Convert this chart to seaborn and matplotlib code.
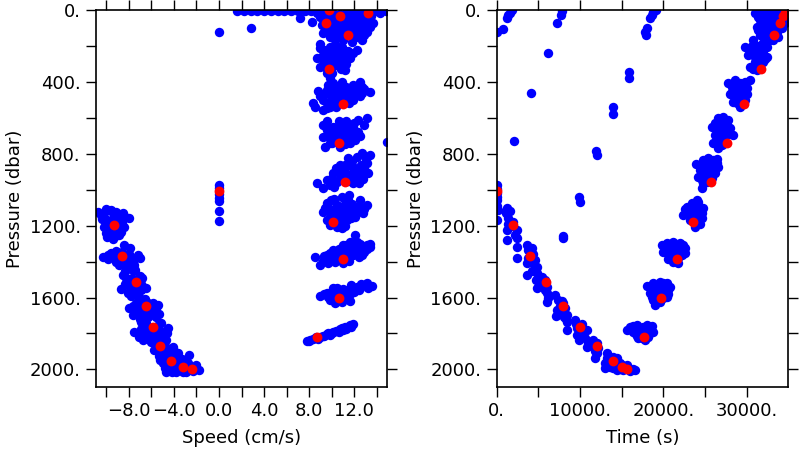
import matplotlib
matplotlib.use("Agg")
import matplotlib.pyplot as plt
import seaborn as sns
import pandas as pd

# red markers: shared pressure with speed and time
red_pres = [0, 15, 33, 74, 139, 328, 523, 742, 955, 1180, 1384, 1605, 1822,
            1010, 1195, 1367, 1515, 1645, 1762, 1868, 1952, 1988, 2000]
red_speed = [9.78, 13.18, 10.72, 9.45, 11.46, 9.75, 11.02, 10.66, 11.17, 10.07, 11.02, 10.66, 8.71,
             0.0, -9.28, -8.63, -7.36, -6.47, -5.88, -5.23, -4.26, -3.22, -2.39]
red_time = [34750, 34600, 34320, 34000, 33320, 31680, 29680, 27680, 25680, 23600, 21680, 19680, 17720,
            80, 2000, 4000, 5920, 7920, 10000, 12000, 14000, 15000, 15600]

# left panel, blue (speed cm/s, pressure dbar)
down_a = [(-10.7, 1125), (-10.0, 1105), (-9.6, 1115), (-9.1, 1125), (-8.5, 1130), (-8.0, 1160),
          (-10.4, 1165), (-9.9, 1170), (-9.5, 1185), (-9.0, 1180), (-8.4, 1205), (-10.2, 1210),
          (-9.7, 1220), (-9.0, 1215), (-8.7, 1235), (-9.9, 1265), (-9.4, 1275), (-8.9, 1250), (-9.6, 1240),
          (-10.5, 1140), (-9.3, 1150), (-8.8, 1155), (-9.3, 1200), (-10.0, 1190), (-9.2, 1260),
          (-10.2, 1130), (-9.4, 1130), (-8.6, 1180), (-9.8, 1195), (-9.2, 1240), (-10.0, 1240), (-8.3, 1150)]
down_b = [(-10.3, 1373), (-9.6, 1354), (-9.1, 1340), (-8.4, 1308), (-7.9, 1326), (-7.2, 1363),
          (-9.1, 1400), (-8.2, 1428), (-7.6, 1400), (-7.4, 1447), (-8.8, 1380), (-8.0, 1360), (-9.8, 1365),
          (-9.4, 1370), (-8.6, 1345), (-7.7, 1380), (-8.6, 1410), (-7.8, 1440),
          (-9.8, 1385), (-9.0, 1360), (-8.3, 1380), (-8.0, 1400), (-8.9, 1420), (-7.5, 1420),
          (-8.3, 1450), (-7.0, 1380)]
down_c = [(-8.5, 1475), (-7.9, 1503), (-6.8, 1493), (-6.5, 1549), (-8.7, 1554), (-8.1, 1577),
          (-7.1, 1558), (-7.6, 1530), (-7.0, 1480), (-6.9, 1525), (-8.3, 1525), (-7.3, 1515),
          (-7.6, 1570), (-6.7, 1540), (-8.2, 1490), (-7.7, 1490), (-7.0, 1500), (-8.0, 1535),
          (-7.3, 1545), (-6.9, 1560), (-7.8, 1590)]
down_d = [(-7.95, 1660), (-7.36, 1632), (-7.07, 1595), (-5.88, 1632), (-5.44, 1642), (-6.18, 1679),
          (-7.36, 1679), (-5.59, 1707), (-6.91, 1735), (-6.6, 1610), (-6.9, 1660), (-6.3, 1710),
          (-6.6, 1660), (-7.6, 1650), (-6.0, 1660), (-6.8, 1695), (-5.8, 1690),
          (-7.1, 1620), (-6.3, 1630), (-5.6, 1660), (-6.1, 1695), (-7.0, 1720), (-6.5, 1740),
          (-7.6, 1700), (-5.3, 1690)]
down_e = [(-7.51, 1790), (-7.07, 1818), (-6.32, 1762), (-5.14, 1744), (-4.55, 1772), (-5.29, 1818),
          (-6.03, 1846), (-4.7, 1837), (-6.6, 1790), (-5.7, 1790), (-4.9, 1790), (-6.4, 1815),
          (-6.9, 1775), (-6.0, 1770), (-5.4, 1765), (-5.0, 1815), (-5.7, 1835), (-6.7, 1835),
          (-6.8, 1800), (-6.1, 1800), (-5.5, 1800), (-5.3, 1750), (-4.6, 1800), (-6.3, 1830),
          (-5.2, 1850), (-7.2, 1800)]
down_f = [(-4.11, 1874), (-5.74, 1892), (-4.99, 1911), (-3.66, 1911), (-4.55, 1929), (-4.99, 1966),
          (-3.81, 1966), (-2.63, 1920), (-2.77, 1966), (-2.04, 1975), (-1.75, 2003), (-4.7, 2013),
          (-3.81, 2013), (-2.93, 2013), (-4.11, 1994), (-3.3, 1940), (-4.4, 1950), (-5.4, 1870),
          (-2.3, 2010), (-3.4, 2000), (-4.5, 1895), (-4.0, 1940), (-3.0, 1980), (-4.4, 1980),
          (-3.5, 1985), (-2.5, 1990), (-5.3, 1925), (-3.9, 1905), (-5.5, 1880), (-4.8, 1870),
          (-4.2, 1910), (-5.2, 1945), (-4.5, 1960), (-3.6, 1950), (-4.8, 1990), (-2.9, 1995),
          (-2.2, 1985), (-3.2, 2012), (-4.2, 2012)]
zero_col = [(0, 124), (0, 975), (0, 992), (0, 1025), (0, 1045), (0, 1062), (0, 1120), (0, 1175), (2.84, 102)]
surface = [(1.6, 5), (2.2, 5), (2.8, 5), (3.4, 5), (4.0, 5), (4.6, 5), (5.2, 5), (5.8, 5), (6.4, 5),
           (7.0, 5), (7.6, 5), (8.2, 5), (13.9, 5), (14.4, 5), (14.8, 5)]
up_a = [(7.18, 46), (8.21, 65), (9.1, 84), (9.25, 130), (9.84, 148), (10.72, 130), (11.02, 84),
        (11.6, 56), (12.2, 28), (12.8, 37), (13.38, 18), (13.68, 74), (12.64, 167), (11.9, 148),
        (10.43, 28), (9.54, 37), (8.65, 18), (11.3, 18), (12.2, 93), (13.1, 121), (10.13, 84),
        (11.02, 167), (14.27, 18), (9.3, 10), (10.0, 10), (11.8, 10), (12.6, 60), (11.8, 80),
        (11.2, 110), (10.3, 110), (10.9, 55), (12.4, 110), (13.0, 80), (10.6, 150), (12.0, 125),
        (8.9, 5), (9.8, 60), (9.5, 100), (10.0, 130), (10.6, 100), (11.5, 130), (12.0, 60),
        (12.9, 15), (13.3, 50), (11.0, 35), (9.9, 30), (12.3, 150), (10.4, 60), (11.4, 70),
        (9.0, 40), (9.6, 15), (10.2, 40), (10.7, 20), (11.6, 25), (12.3, 10), (13.5, 35), (12.7, 90),
        (11.9, 110), (11.1, 150), (10.0, 100), (10.9, 90), (9.4, 70), (12.9, 140), (11.6, 100),
        (12.3, 40), (13.4, 95), (10.3, 155)]
up_b = [(8.95, 213), (9.84, 204), (8.65, 269), (9.25, 278), (10.13, 250), (11.02, 241), (11.6, 269),
        (12.2, 222), (11.76, 176), (8.95, 315), (10.43, 306), (11.17, 334), (9.84, 380), (10.13, 408),
        (9.54, 352), (10.72, 297), (9.6, 240), (10.5, 220), (9.4, 300), (10.2, 280),
        (9.2, 250), (10.0, 320), (10.8, 270), (11.3, 300), (9.0, 190), (10.3, 190), (9.7, 420), (10.8, 330),
        (9.3, 225), (9.9, 230), (10.6, 260), (11.2, 260), (11.9, 240), (9.7, 270), (10.4, 280),
        (9.9, 300), (10.7, 320), (10.0, 350), (9.6, 330), (11.4, 230), (10.9, 205)]
up_c = [(8.8, 449), (8.36, 516), (9.25, 501), (9.55, 445), (10.43, 427), (10.87, 399), (12.5, 399),
        (12.65, 427), (13.39, 455), (11.6, 445), (11.9, 501), (9.84, 538), (9.25, 556), (10.13, 482),
        (11.32, 473), (10.8, 450), (12.2, 460), (10.6, 510), (11.3, 430), (9.8, 470),
        (9.0, 480), (9.6, 520), (10.4, 540), (11.0, 490), (12.5, 480), (12.9, 440), (11.9, 420),
        (8.5, 540), (10.0, 420), (9.3, 470), (9.9, 500), (10.5, 470), (11.1, 460), (11.6, 480),
        (12.2, 430), (12.7, 460), (10.3, 450), (10.8, 420), (9.6, 545), (10.2, 520), (11.5, 515),
        (12.0, 440)]
up_d = [(9.25, 640), (9.54, 668), (10.13, 649), (11.02, 640), (11.9, 658), (12.35, 677), (9.25, 705),
        (10.13, 705), (11.32, 705), (12.05, 723), (9.84, 742), (10.72, 760), (11.6, 742), (13.09, 603),
        (12.35, 612), (11.32, 677), (10.43, 677), (14.86, 733), (10.8, 690), (11.8, 690), (9.7, 690),
        (10.6, 620), (9.6, 620), (10.2, 730), (11.0, 730), (12.5, 700), (12.9, 640), (12.0, 630),
        (9.4, 760), (11.3, 620), (9.5, 650), (10.0, 665), (10.5, 650), (11.0, 665), (11.5, 655),
        (12.0, 670), (9.6, 700), (10.4, 720), (10.9, 715), (11.6, 715), (12.3, 700), (10.0, 740),
        (11.2, 745), (10.6, 665), (11.8, 640), (10.5, 700)]
up_e = [(12.64, 798), (13.38, 807), (11.46, 825), (13.09, 853), (10.72, 862), (11.9, 872), (12.5, 890),
        (13.24, 909), (10.13, 909), (11.32, 918), (12.2, 937), (9.54, 946), (10.43, 955), (8.65, 961),
        (9.25, 992), (11.9, 965), (11.2, 880), (12.9, 880), (10.0, 935), (11.6, 850), (12.2, 820),
        (13.0, 830), (10.6, 900), (11.7, 910), (12.8, 940), (9.8, 975), (10.8, 940),
        (11.8, 840), (12.6, 860), (11.2, 860), (10.4, 880), (11.0, 900), (12.0, 900), (12.6, 915),
        (10.8, 925), (9.9, 950), (11.6, 940), (12.4, 960), (10.2, 985), (11.4, 950)]
up_f = [(10.87, 1039), (9.54, 1076), (10.43, 1085), (12.5, 1057), (13.09, 1085), (9.25, 1122),
        (10.13, 1113), (11.02, 1132), (11.9, 1113), (12.79, 1132), (9.54, 1169), (10.43, 1159),
        (11.32, 1169), (10.87, 1215), (9.84, 1196), (12.2, 1094), (10.9, 1100), (10.3, 1140), (12.4, 1120),
        (9.9, 1060), (11.4, 1060), (12.9, 1110), (11.6, 1140), (10.0, 1170), (9.4, 1100), (10.6, 1190),
        (12.1, 1150), (11.5, 1030), (10.2, 1050), (11.2, 1080), (11.8, 1080), (12.4, 1090), (9.8, 1110),
        (10.6, 1120), (11.5, 1110), (12.0, 1130), (9.9, 1140), (10.9, 1160), (11.7, 1160), (10.5, 1210),
        (11.2, 1200)]
up_g = [(12.05, 1252), (11.6, 1289), (11.02, 1308), (10.13, 1336), (9.54, 1363), (8.51, 1376),
        (8.95, 1419), (10.43, 1363), (11.32, 1336), (12.2, 1317), (13.09, 1308), (13.38, 1317),
        (12.64, 1363), (11.9, 1363), (9.84, 1391), (10.87, 1391), (11.6, 1340), (10.9, 1350),
        (12.7, 1320), (9.2, 1395), (10.0, 1380), (11.2, 1375), (12.2, 1350), (10.6, 1330),
        (11.8, 1300), (9.8, 1350), (12.9, 1345), (13.1, 1330), (11.3, 1310), (12.0, 1330),
        (12.5, 1300), (10.4, 1340), (9.3, 1370), (10.3, 1400), (11.5, 1395), (12.4, 1375),
        (9.7, 1410), (11.0, 1410), (12.2, 1290), (13.4, 1300)]
up_h = [(13.09, 1521), (13.53, 1536), (12.2, 1540), (11.46, 1558), (10.13, 1549), (10.72, 1567),
        (9.54, 1577), (8.95, 1591), (9.84, 1614), (10.28, 1632), (11.32, 1605), (12.5, 1549),
        (11.0, 1580), (10.2, 1590), (12.8, 1530), (10.5, 1545), (11.8, 1550), (12.6, 1525),
        (9.9, 1575), (10.7, 1600), (11.6, 1580), (9.3, 1580), (11.0, 1550), (11.7, 1530),
        (12.4, 1560), (10.3, 1570), (9.7, 1595), (10.9, 1625), (11.6, 1620), (10.1, 1610),
        (12.0, 1570), (13.2, 1545)]
up_i = [(11.9, 1749), (11.32, 1762), (10.72, 1777), (10.13, 1790), (9.54, 1803), (8.95, 1818),
        (8.36, 1829), (7.77, 1840), (9.84, 1809), (11.02, 1781), (10.4, 1784), (9.2, 1812),
        (8.1, 1834), (11.6, 1755), (10.9, 1768), (9.7, 1795), (8.6, 1822), (11.3, 1775),
        (8.8, 1830), (9.3, 1815), (10.0, 1800), (10.6, 1790), (11.2, 1765), (11.7, 1765), (8.0, 1843)]

# right panel, blue (time s, pressure dbar)
near0 = [(0, 974), (0, 1020), (0, 1058), (120, 1113), (0, 1169), (0, 995), (0, 1040), (0, 1090)]
stray = [(80, 121), (800, 108), (1200, 46), (1600, 15), (1800, 0), (1400, 30), (7280, 74), (7680, 28),
         (7880, 4), (6120, 241), (4080, 460), (2080, 729), (13920, 542), (13920, 579), (11920, 783),
         (12000, 807), (9920, 1039), (10000, 1067), (7920, 1256), (8000, 1271), (15880, 343),
         (15920, 380), (17800, 121), (17880, 139), (18400, 46), (18600, 28), (18800, 9), (19120, 0),
         (18000, 102)]
desc_a = [(1200, 1104), (1120, 1132), (1400, 1160), (1200, 1224), (1200, 1280), (2000, 1178),
          (2400, 1224), (2400, 1271), (2400, 1321), (2400, 1382), (1300, 1190), (2200, 1250),
          (1600, 1120), (1800, 1200)]
desc_b = [(3600, 1308), (3800, 1336), (4000, 1354), (3600, 1410), (3600, 1475), (4600, 1391),
          (4800, 1428), (4800, 1466), (4800, 1549), (4200, 1326), (3700, 1380), (4400, 1410), (4700, 1500),
          (4400, 1360), (4000, 1400), (4200, 1450)]
desc_c = [(5400, 1484), (5800, 1503), (6000, 1540), (6000, 1577), (6000, 1623), (5600, 1512), (6100, 1600),
          (5800, 1560), (5500, 1530)]
desc_d = [(7000, 1586), (7400, 1614), (8000, 1632), (7200, 1670), (7800, 1679), (8400, 1698),
          (8400, 1735), (8400, 1781), (7120, 1703), (7600, 1650), (8200, 1660), (8300, 1720),
          (7800, 1620), (7500, 1690), (8100, 1710)]
desc_e = [(9400, 1725), (9600, 1772), (10200, 1781), (9600, 1809), (10600, 1827), (10800, 1781),
          (9920, 1837), (9500, 1750), (10000, 1800), (10400, 1800), (10200, 1750), (9800, 1760)]
desc_f = [(11600, 1837), (12000, 1883), (10800, 1874), (11000, 1855), (12000, 1855), (11800, 1939),
          (12000, 1910), (11800, 1900), (11400, 1870), (12200, 1880)]
desc_g = [(13200, 1911), (14000, 1929), (14400, 1939), (13000, 1967), (13600, 1985), (14800, 1967),
          (14400, 2004), (15200, 2004), (15600, 1976), (16600, 2004), (16000, 2007), (13200, 1939),
          (13600, 1950), (14000, 1990), (14800, 2000), (15000, 1975), (13000, 1990),
          (15400, 1995), (16300, 2000), (14200, 1960)]
asc_a = [(15600, 1781), (16200, 1772), (16800, 1753), (17600, 1762), (18400, 1772), (18800, 1790),
         (18200, 1799), (17200, 1799), (16400, 1790), (17000, 1827), (17800, 1837), (18000, 1753),
         (16600, 1800), (17400, 1780), (18200, 1820), (17000, 1765), (16000, 1765),
         (16400, 1760), (17000, 1790), (17600, 1800), (18400, 1795), (18600, 1760), (16800, 1815),
         (17400, 1825)]
asc_b = [(18000, 1536), (18800, 1521), (19600, 1512), (20400, 1521), (20600, 1558), (20000, 1568),
         (19200, 1577), (18400, 1577), (18800, 1614), (19600, 1623), (20400, 1595), (19000, 1642),
         (19200, 1540), (19800, 1545), (18600, 1595), (20000, 1600), (19400, 1600), (20800, 1540),
         (18400, 1540), (19000, 1560), (19800, 1580), (20200, 1560), (18800, 1580), (19400, 1620),
         (20600, 1580), (20000, 1520)]
asc_c = [(19800, 1308), (20400, 1299), (21200, 1289), (22000, 1299), (22600, 1326), (22200, 1363),
         (21400, 1373), (20400, 1354), (20000, 1345), (21000, 1336), (21800, 1410), (20800, 1363),
         (20800, 1320), (21600, 1320), (21600, 1350), (22400, 1340), (20600, 1385), (21200, 1400),
         (20200, 1320), (21000, 1310), (21800, 1330), (22400, 1310), (21200, 1360), (21800, 1380),
         (20800, 1345), (22600, 1350)]
asc_d = [(22800, 1098), (23400, 1076), (24000, 1057), (24200, 1094), (24600, 1132), (24600, 1159),
         (23600, 1132), (22800, 1132), (23200, 1169), (23800, 1206), (22400, 1141),
         (23200, 1100), (23800, 1100), (24400, 1110), (23400, 1150), (24000, 1160), (24400, 1190),
         (22600, 1110), (23000, 1120), (23600, 1090), (24200, 1130), (23200, 1140), (23800, 1170),
         (24200, 1070), (24800, 1100)]
asc_e = [(23920, 857), (24800, 835), (25400, 826), (26000, 835), (26600, 872), (26200, 909),
         (25400, 890), (24400, 890), (24600, 946), (25200, 955), (25800, 937), (24600, 993),
         (25000, 860), (25800, 870), (26400, 850), (25000, 920), (25600, 920), (24200, 930), (26000, 890),
         (24600, 860), (25200, 840), (25600, 860), (26200, 870), (24800, 900), (25400, 910),
         (24800, 960), (25400, 950), (26400, 830)]
asc_f = [(25800, 649), (26600, 603), (27200, 594), (27800, 612), (28000, 658), (27400, 686),
         (26600, 677), (26200, 696), (26800, 724), (27400, 742), (28400, 696), (26600, 770),
         (26200, 630), (27000, 630), (27600, 650), (26800, 680), (27800, 690), (26000, 740),
         (26400, 650), (27000, 660), (27600, 620), (27200, 710), (26400, 720), (27000, 750),
         (27800, 650), (26800, 610)]
asc_g = [(27800, 408), (28600, 390), (29200, 408), (30000, 436), (29600, 473), (28800, 482),
         (28200, 455), (28400, 510), (29200, 538), (29800, 501), (30400, 390),
         (28400, 420), (29000, 440), (29600, 420), (29200, 470), (28800, 520), (28000, 470),
         (28200, 430), (28800, 410), (29400, 450), (30000, 470), (28600, 470), (29000, 500),
         (29600, 510), (29800, 400)]
asc_h = [(29800, 204), (30200, 250), (30800, 241), (31200, 278), (31600, 315), (32000, 288),
         (32400, 260), (31200, 334), (30400, 315), (32400, 204), (31600, 222), (30800, 167),
         (30400, 220), (31000, 290), (31600, 260), (32000, 240), (30800, 330), (31800, 190), (32600, 170),
         (30600, 200), (31000, 230), (31400, 240), (31200, 200), (31800, 250), (32200, 270),
         (31000, 260), (31400, 300), (32000, 210)]
asc_i = [(31000, 19), (31600, 56), (31400, 111), (32000, 148), (32400, 111), (32800, 74), (33200, 37),
         (33600, 19), (34200, 28), (34600, 46), (34000, 93), (33800, 148), (33200, 167), (32400, 9),
         (31800, 9), (33000, 130), (34400, 9), (33400, 102), (32200, 56), (32800, 19), (31200, 93),
         (32200, 130), (32600, 40), (33000, 80), (33800, 60), (34400, 70), (31600, 140), (34800, 25),
         (33400, 0), (34800, 0), (31400, 40), (31800, 80), (32200, 90), (32600, 100), (33000, 55),
         (33400, 25), (33800, 40), (34200, 50), (33400, 70), (32800, 140), (32400, 160), (33600, 120),
         (34600, 70), (34200, 100), (31800, 120)]

left_pts = (down_a + down_b + down_c + down_d + down_e + down_f + zero_col + surface
            + up_a + up_b + up_c + up_d + up_e + up_f + up_g + up_h + up_i)
right_pts = (near0 + stray + desc_a + desc_b + desc_c + desc_d + desc_e + desc_f + desc_g
             + asc_a + asc_b + asc_c + asc_d + asc_e + asc_f + asc_g + asc_h + asc_i)

left_df = pd.DataFrame(left_pts, columns=["speed", "pressure"])
right_df = pd.DataFrame(right_pts, columns=["time", "pressure"])
red_df = pd.DataFrame({"speed": red_speed, "time": red_time, "pressure": red_pres})

sns.set_theme(style="white")
plt.rcParams['font.family'] = ['DejaVu Sans']
plt.rcParams['text.color'] = 'black'
plt.rcParams['axes.labelcolor'] = 'black'

fig = plt.figure(figsize=(8, 4.5), dpi=100)
ax1 = fig.add_axes([0.12, 0.14, 0.3638, 0.8378])
ax2 = fig.add_axes([0.6209, 0.14, 0.3641, 0.8378])

sns.scatterplot(data=left_df, x="speed", y="pressure", color="#0000ff", s=46, linewidth=0, ax=ax1)
sns.scatterplot(data=red_df, x="speed", y="pressure", color="#ff0000", s=50, linewidth=0, ax=ax1)
sns.scatterplot(data=right_df, x="time", y="pressure", color="#0000ff", s=46, linewidth=0, ax=ax2)
sns.scatterplot(data=red_df, x="time", y="pressure", color="#ff0000", s=50, linewidth=0, ax=ax2)

pres_ticks = [0, 400, 800, 1200, 1600, 2000]
pres_labels = ["0.", "400.", "800.", "1200.", "1600.", "2000."]

ax1.set_xlim(-10.9, 14.9)
ax1.set_xticks([-8, -4, 0, 4, 8, 12], ["\u22128.0", "\u22124.0", "0.0", "4.0", "8.0", "12.0"])
ax1.set_xticks([-10, -6, -2, 2, 6, 10, 14], minor=True)
ax1.set_xlabel("Speed (cm/s)", fontsize=13, labelpad=6)

ax2.set_xlim(0, 34960)
ax2.set_xticks([0, 10000, 20000, 30000], ["0.", "10000.", "20000.", "30000."])
ax2.set_xticks([5000, 15000, 25000], minor=True)
ax2.set_xlabel("Time (s)", fontsize=13, labelpad=6)

for ax in (ax1, ax2):
    ax.set_ylim(2098, 0)
    ax.set_yticks(pres_ticks, pres_labels)
    ax.set_yticks([200, 600, 1000, 1400, 1800], minor=True)
    ax.set_ylabel("Pressure (dbar)", fontsize=13, labelpad=4)
    ax.tick_params(which="both", direction="out", length=7, width=1, colors="black",
                   top=True, right=True, bottom=True, left=True, labelsize=13, pad=4)
    for sp in ax.spines.values():
        sp.set_color("black")
        sp.set_linewidth(1.2)

fig.savefig("out.png", dpi=100)
